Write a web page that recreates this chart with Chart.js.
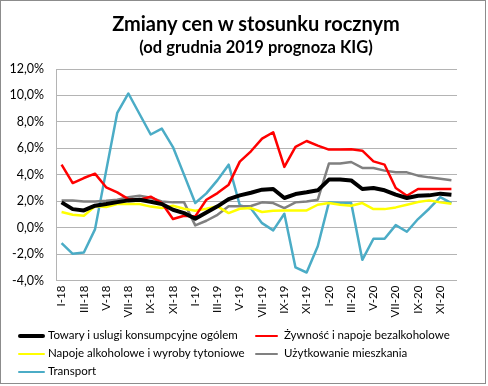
<!DOCTYPE html>
<html><head><meta charset="utf-8">
<script src="https://cdn.jsdelivr.net/npm/chart.js@4"></script>
<style>
html,body{margin:0;padding:0;background:#fff;}
#wrap{position:relative;width:488px;height:386px;overflow:hidden;font-family:Lato,"Liberation Sans",sans-serif;}
#frame{position:absolute;left:0;top:0;width:484px;height:382px;border:1px solid #8c8c8c;pointer-events:none;}
canvas{position:absolute;left:0;top:0;}
.t{position:absolute;left:55px;width:402px;text-align:center;font-weight:bold;color:#000;white-space:nowrap;}
#t1{top:11px;font-size:20px;}
#t2{top:37px;font-size:16.5px;}
#legend{position:absolute;left:0;top:0;width:488px;height:386px;font-size:11.5px;color:#000;}
.li{position:absolute;white-space:nowrap;}
.sw{position:absolute;}
</style></head>
<body><div id="wrap">
<canvas id="c" width="488" height="386"></canvas>
<div class="t" id="t1">Zmiany cen w stosunku rocznym</div>
<div class="t" id="t2">(od grudnia 2019 prognoza KIG)</div>
<div id="legend"></div>
<div id="frame"></div>
</div>
<script>
const months = ["I","II","III","IV","V","VI","VII","VIII","IX","X","XI","XII"];
const years = ["18","19","20"];
const categories = [];
years.forEach(y => months.forEach(m => categories.push(m + "-" + y)));

const seriesNames = [
  "Towary i uslugi konsumpcyjne ogólem",
  "Żywność i napoje bezalkoholowe",
  "Napoje alkoholowe i  wyroby tytoniowe",
  "Użytkowanie mieszkania",
  "Transport"
];
const towaryOgolem = [1.92,1.41,1.31,1.67,1.79,1.94,2.07,2.12,1.97,1.79,1.36,1.11,0.68,1.16,1.62,2.17,2.45,2.65,2.88,2.93,2.25,2.55,2.68,2.83,3.64,3.64,3.58,2.93,3.0,2.83,2.5,2.25,2.42,2.45,2.58,2.5];
const zywnosc = [4.77,3.38,3.76,4.09,3.06,2.68,2.17,2.12,2.35,1.87,0.66,0.91,0.86,2.12,2.62,3.26,5.0,5.78,6.74,7.22,4.6,6.11,6.56,6.21,5.91,5.91,5.93,5.83,5.02,4.77,3.0,2.42,2.93,2.93,2.93,2.93];
const napojeAlk = [1.19,0.98,0.91,1.62,1.57,1.79,1.79,1.79,1.6,1.49,1.67,1.44,1.29,1.44,1.62,1.11,1.44,1.49,1.19,1.29,1.31,1.31,1.31,1.74,1.87,1.74,1.67,1.87,1.41,1.41,1.54,1.74,1.94,2.07,1.92,1.82];
const mieszkanie = [2.07,2.07,1.99,1.99,2.04,2.12,2.3,2.42,2.27,1.99,1.92,1.92,0.18,0.53,0.98,1.62,1.62,1.65,1.92,1.87,1.49,1.92,1.99,2.12,4.85,4.85,4.97,4.52,4.52,4.32,4.19,4.19,3.94,3.81,3.71,3.59];
const transport = [-1.16,-1.97,-1.87,-0.12,4.3,8.69,10.15,8.6,7.05,7.5,6.1,4.0,1.87,2.6,3.6,4.77,1.7,1.45,0.35,-0.2,1.06,-3.0,-3.38,-1.4,1.92,1.87,1.87,-2.42,-0.83,-0.83,0.2,-0.3,0.66,1.44,2.32,1.87];
const yTicks = [-4,-2,0,2,4,6,8,10,12];

const values = [towaryOgolem, zywnosc, napojeAlk, mieszkanie, transport];
const colors = ["#000000","#ff0000","#ffff00","#808080","#4bacc6"];
const widths = [4,2.5,2.5,2.5,2.5];

new Chart(document.getElementById("c"), {
  type: "line",
  data: {
    labels: categories,
    datasets: values.map((v,i)=>({
      label: seriesNames[i], data: v, borderColor: colors[i], backgroundColor: colors[i],
      borderWidth: widths[i], pointRadius: 0, tension: 0, fill: false, borderJoinStyle: "round"
    }))
  },
  options: {
    responsive: false, animation: false,
    layout: { padding: { left: 0, right: 31, top: 69, bottom: 66 } },
    plugins: { legend: { display: false }, title: { display: false }, tooltip: { enabled: false } },
    scales: {
      x: {
        offset: true,
        grid: { display: false, drawTicks: false },
        border: { display: false },
        ticks: {
          autoSkip: false, minRotation: 90, maxRotation: 90, padding: 5,
          color: "#000", font: { family: "Lato, 'Liberation Sans', sans-serif", size: 11.5 },
          callback: function(v, i){ return i % 2 === 0 ? categories[i] : ""; }
        },
        afterFit: s => { s.height = 386 - 66 - 280.7; }
      },
      y: {
        min: -4, max: 12,
        afterBuildTicks: s => { s.ticks = yTicks.map(v => ({ value: v })); },
        grid: { color: "#b4b4b4", lineWidth: 1, drawTicks: false },
        border: { display: true, color: "#b4b4b4" },
        ticks: {
          padding: 12, color: "#000", font: { family: "Lato, 'Liberation Sans', sans-serif", size: 12.5 },
          callback: v => v.toFixed(1).replace(".", ",") + "%"
        },
        afterFit: s => { s.width = 56; }
      }
    }
  }
});

// HTML legend built from the series
const legendPos = [[18,336],[255,336],[18,354],[255,354],[18,372]];
const lg = document.getElementById("legend");
seriesNames.forEach((n,i)=>{
  const [x,y] = legendPos[i];
  const sw = document.createElement("div");
  sw.className = "sw";
  const len = i % 2 === 0 ? 27 : 23;
  sw.style.cssText = `left:${x}px;top:${y - widths[i]/2}px;width:${len}px;height:${widths[i]}px;background:${colors[i]};border-radius:2px;`;
  lg.appendChild(sw);
  const t = document.createElement("div");
  t.className = "li";
  t.textContent = n;
  t.style.left = (x + len + (i % 2 === 0 ? 3 : 6)) + "px";
  t.style.top = (y - 8) + "px";
  lg.appendChild(t);
});
</script>
</body></html>
